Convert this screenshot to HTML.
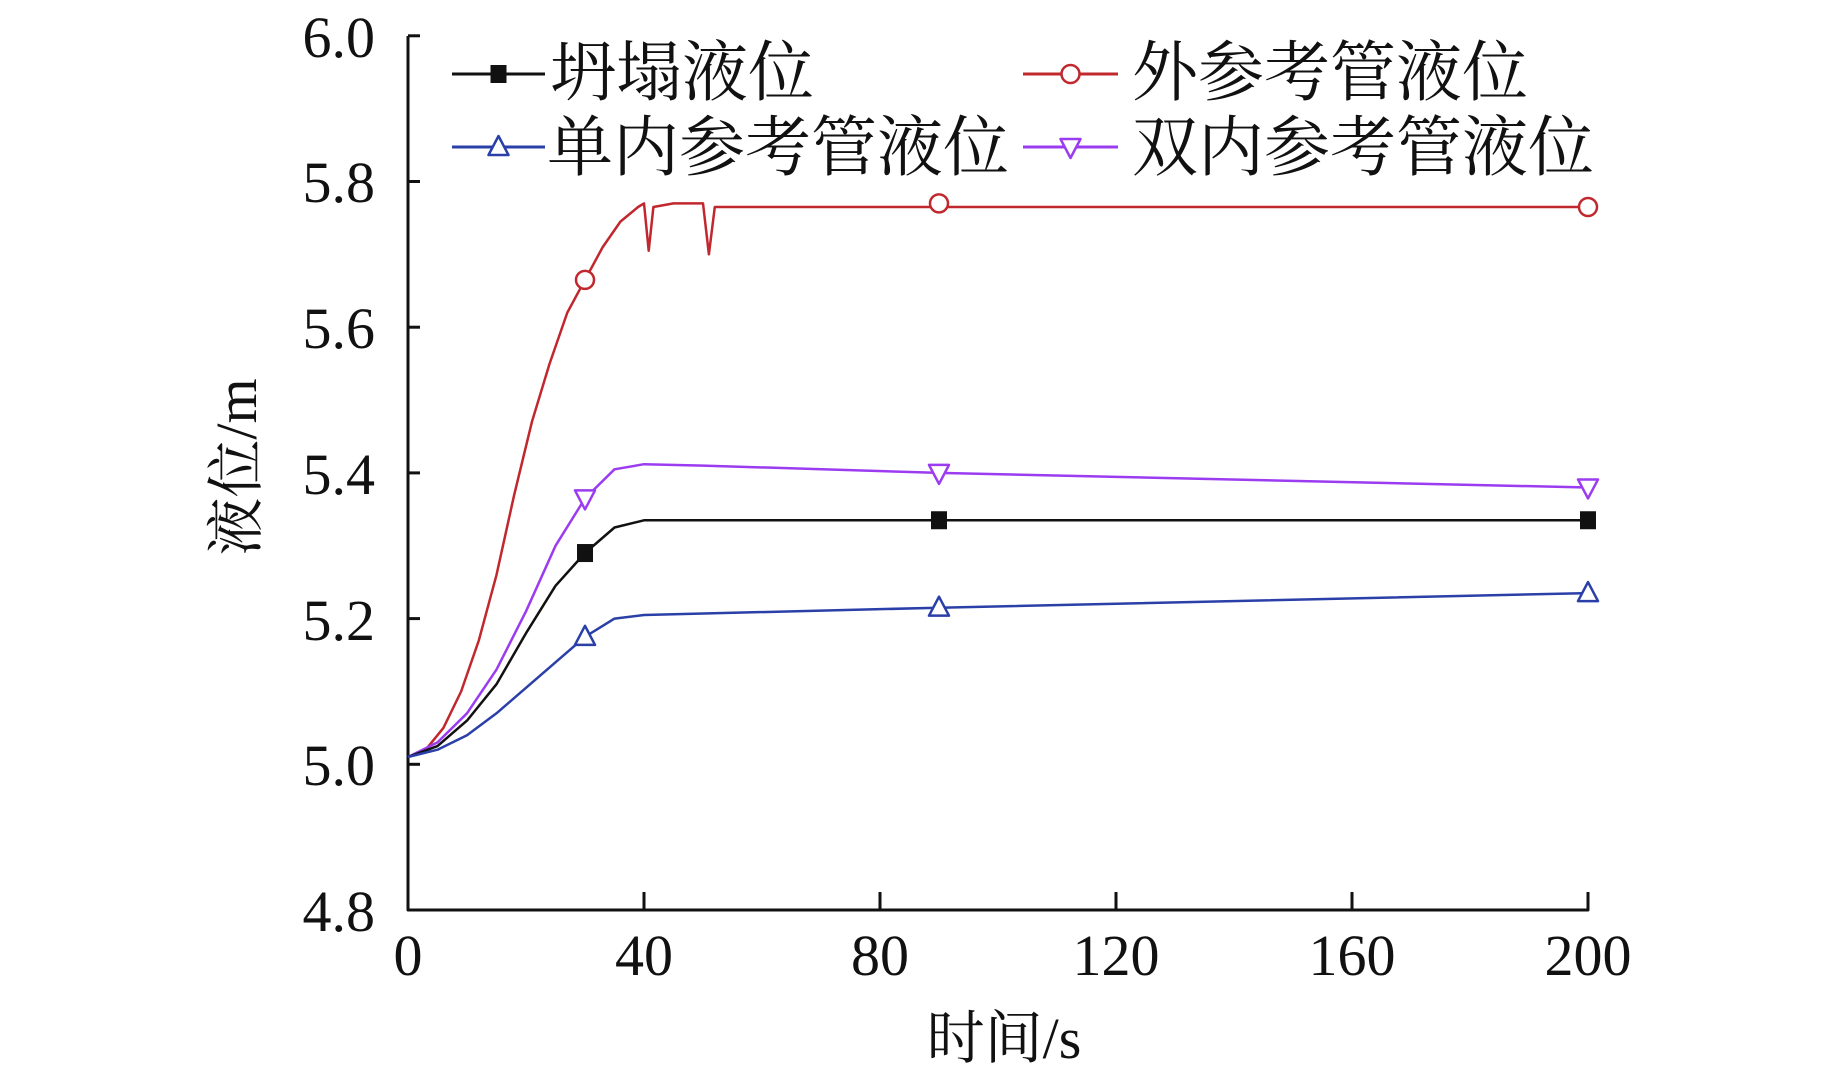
<!DOCTYPE html>
<html><head><meta charset="utf-8"><style>
html,body{margin:0;padding:0;background:#fff;}
svg{display:block;}
text{font-family:"Liberation Serif","Noto Serif CJK SC","Noto Sans CJK SC",serif;fill:#111;}
</style></head><body>
<svg id="s" width="1843" height="1067" viewBox="0 0 1843 1067" xmlns="http://www.w3.org/2000/svg">
<g id="g" fill="none" stroke-linejoin="round"></g>
<g font-size="58">
<text x="375" y="57" text-anchor="end">6.0</text>
<text x="375" y="202" text-anchor="end">5.8</text>
<text x="375" y="348" text-anchor="end">5.6</text>
<text x="375" y="494" text-anchor="end">5.4</text>
<text x="375" y="640" text-anchor="end">5.2</text>
<text x="375" y="785" text-anchor="end">5.0</text>
<text x="375" y="931" text-anchor="end">4.8</text>
<text x="408" y="975" text-anchor="middle">0</text>
<text x="644" y="975" text-anchor="middle">40</text>
<text x="880" y="975" text-anchor="middle">80</text>
<text x="1116" y="975" text-anchor="middle">120</text>
<text x="1352" y="975" text-anchor="middle">160</text>
<text x="1588" y="975" text-anchor="middle">200</text>
<text x="1004" y="1058" text-anchor="middle">时间/s</text>
<text transform="translate(256,467) rotate(-90)" text-anchor="middle">液位/m</text>
</g>
<g font-size="66">
<text x="550" y="95">坍塌液位</text>
<text x="1132" y="95">外参考管液位</text>
<text x="547" y="170">单内参考管液位</text>
<text x="1132" y="170">双内参考管液位</text>
</g>
</svg>
<script>
var X=t=>408+t*5.9, Y=v=>910-(v-4.8)*728.5;
var g=document.getElementById('g'),h='';
h+='<path d="M408 36V910H1588V892" stroke="#111" stroke-width="3"/>';
[6.0,5.8,5.6,5.4,5.2,5.0].forEach(v=>{h+='<line x1="408" x2="420" y1="'+Y(v)+'" y2="'+Y(v)+'" stroke="#111" stroke-width="3"/>';});
[40,80,120,160].forEach(t=>{h+='<line y1="910" y2="892" x1="'+X(t)+'" x2="'+X(t)+'" stroke="#111" stroke-width="3"/>';});
function line(pts,c){h+='<polyline points="'+pts.map(p=>X(p[0]).toFixed(1)+','+Y(p[1]).toFixed(1)).join(' ')+'" stroke="'+c+'" stroke-width="2.5"/>';}
function mk(t,v,type,c){var x=X(t),y=Y(v),r=9;
 if(type=='sq')h+='<rect x="'+(x-8)+'" y="'+(y-9)+'" width="16" height="18" fill="#111"/>';
 else if(type=='o')h+='<circle cx="'+x+'" cy="'+y+'" r="'+r+'" stroke="'+c+'" stroke-width="2.5" fill="#fff"/>';
 else if(type=='up')h+='<polygon points="'+x+','+(y-11)+' '+(x-10)+','+(y+8)+' '+(x+10)+','+(y+8)+'" stroke="'+c+'" stroke-width="2.5" fill="#fff"/>';
 else h+='<polygon points="'+x+','+(y+11)+' '+(x-10)+','+(y-8)+' '+(x+10)+','+(y-8)+'" stroke="'+c+'" stroke-width="2.5" fill="#fff"/>';}
var red='#c0282e',pur='#9b3cf0',blu='#2a3fa8',blk='#111';
line([[0,5.01],[3,5.02],[6,5.05],[9,5.1],[12,5.17],[15,5.26],[18,5.37],[21,5.47],[24,5.55],[27,5.62],[30,5.665],[33,5.71],[36,5.745],[39,5.765],[40,5.77],[40.8,5.705],[41.6,5.765],[45,5.77],[50,5.77],[51,5.70],[52,5.765],[200,5.765]],red);
line([[0,5.01],[5,5.03],[10,5.07],[15,5.13],[20,5.21],[25,5.3],[30,5.365],[35,5.405],[40,5.412],[50,5.41],[90,5.40],[200,5.38]],pur);
line([[0,5.01],[5,5.025],[10,5.06],[15,5.11],[20,5.18],[25,5.245],[30,5.29],[35,5.325],[40,5.335],[200,5.335]],blk);
line([[0,5.01],[5,5.02],[10,5.04],[15,5.07],[20,5.105],[25,5.14],[30,5.175],[35,5.2],[40,5.205],[90,5.215],[200,5.235]],blu);
[[30,5.665],[90,5.77],[200,5.765]].forEach(p=>mk(p[0],p[1],'o',red));
[[30,5.365],[90,5.40],[200,5.38]].forEach(p=>mk(p[0],p[1],'dn',pur));
[[30,5.29],[90,5.335],[200,5.335]].forEach(p=>mk(p[0],p[1],'sq',blk));
[[30,5.175],[90,5.215],[200,5.235]].forEach(p=>mk(p[0],p[1],'up',blu));
function leg(x1,x2,y,c,type){h+='<line x1="'+x1+'" x2="'+x2+'" y1="'+y+'" y2="'+y+'" stroke="'+c+'" stroke-width="3"/>';var x=(x1+x2)/2;
 if(type=='sq')h+='<rect x="'+(x-8)+'" y="'+(y-9)+'" width="16" height="18" fill="#111"/>';
 else if(type=='o')h+='<circle cx="'+x+'" cy="'+y+'" r="9" stroke="'+c+'" stroke-width="2.5" fill="#fff"/>';
 else if(type=='up')h+='<polygon points="'+x+','+(y-11)+' '+(x-10)+','+(y+8)+' '+(x+10)+','+(y+8)+'" stroke="'+c+'" stroke-width="2.5" fill="#fff"/>';
 else h+='<polygon points="'+x+','+(y+11)+' '+(x-10)+','+(y-8)+' '+(x+10)+','+(y-8)+'" stroke="'+c+'" stroke-width="2.5" fill="#fff"/>';}
leg(452,545,74,blk,'sq');leg(1023,1118,74,red,'o');leg(452,545,147,blu,'up');leg(1023,1118,147,pur,'dn');
g.innerHTML=h;
</script>
</body></html>
